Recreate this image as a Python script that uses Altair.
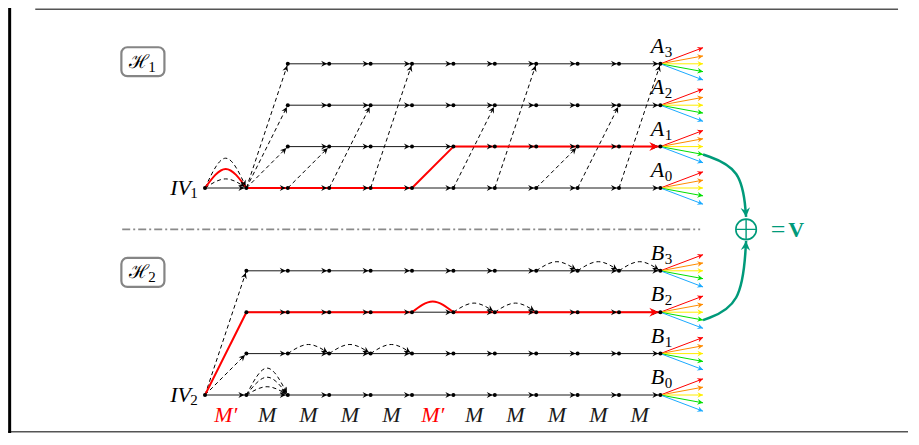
import math
import altair as alt
import pandas as pd

# ------------------------------------------------------------------ data
# Grid: column index 0..11 (column 0 = IV node); "level" = vertical row position
row_letter = ["B", "B", "B", "B", "A", "A", "A", "A"]
row_sub = ["0", "1", "2", "3", "0", "1", "2", "3"]
row_level = [0, 1, 2, 3, 5, 6, 7, 8]
row_first_col = [0, 1, 1, 1, 0, 2, 2, 2]
last_col = 11

iv_level = [5, 0]
iv_sub = ["1", "2"]

# dashed straight transitions (from col/level -> to col/level)
dash_c1 = [1, 1, 1, 2, 3, 4, 6, 7, 8, 9, 10, 0, 0]
dash_l1 = [5, 5, 5, 5, 5, 5, 5, 5, 5, 5, 5, 0, 0]
dash_c2 = [2, 2, 2, 3, 4, 5, 7, 8, 9, 10, 11, 1, 1]
dash_l2 = [6, 7, 8, 6, 7, 8, 7, 8, 6, 7, 8, 3, 1]

# highlighted (red) straight path pieces
red_c1 = [1, 5, 6, 0, 1, 6]
red_l1 = [5, 5, 6, 0, 2, 2]
red_c2 = [5, 6, 11, 1, 5, 11]
red_l2 = [5, 6, 6, 2, 2, 2]
red_end_col = [11, 11]
red_end_level = [6, 2]

# arcs along a row (from col, to col, level, apex height, highlighted?)
arc_c1 = [0, 0, 0, 1, 1, 1, 2, 3, 4, 5, 6, 7, 8, 9, 10]
arc_c2 = [1, 1, 1, 2, 2, 2, 3, 4, 5, 6, 7, 8, 9, 10, 11]
arc_lv = [5, 5, 5, 0, 0, 0, 1, 1, 1, 2, 2, 2, 3, 3, 3]
arc_h = [0.46, 0.72, 0.22, 0.65, 0.43, 0.20, 0.22, 0.22, 0.22, 0.26, 0.22, 0.22, 0.22, 0.22, 0.22]
arc_red = [True, False, False, False, False, False, False, False, False,
           True, False, False, False, False, False]

# output fan at the last column
fan_dy = [0.39, 0.19, 0.0, -0.19, -0.39]
fan_end_col = 12.03
fan_palette = ["#ff0000", "#ff8c00", "#ffee00", "#00e000", "#1aaaff"]

# bottom labels
mult_col = [0.5, 1.5, 2.5, 3.5, 4.5, 5.5, 6.5, 7.5, 8.5, 9.5, 10.5]
mult_text = ["M′", "M", "M", "M", "M", "M′", "M", "M", "M", "M", "M"]
mult_level = -0.48

# combining curves towards the ⊕
sum_c = [[12.03, 12.97, 13.07], [12.03, 12.97, 13.07]]
sum_l = [[5.81, 5.48, 4.30], [1.81, 2.15, 3.72]]
oplus_col, oplus_level = 13.07, 4.0
teal = "#009a7a"

box_col = [-1.5, -1.5]
box_level = [8.05, 2.96]
box_sub = ["1", "2"]

divider_c1, divider_c2, divider_level = -2.0, 11.96, 4.0

# ------------------------------------------------------------------ scales
W, H = 900, 425
PX = 41.4
x0 = (8 - 205) / PX
x1 = x0 + W / PX
y1 = (395 - 8) / PX
y0 = y1 - H / PX
xs = alt.Scale(domain=[x0, x1], nice=False, zero=False)
ys = alt.Scale(domain=[y0, y1], nice=False, zero=False)


def X(f="x"):
    return alt.X(f"{f}:Q", scale=xs, axis=None)


def Y(f="y"):
    return alt.Y(f"{f}:Q", scale=ys, axis=None)


def ang(dx, dy):
    return math.degrees(math.atan2(-dy, dx)) % 360


PULL = 0.05
ARROW = "M0,0L-1.8,-0.9L-1.2,0L-1.8,0.9Z"
FONT = "Liberation Serif"

# ------------------------------------------------------------------ tables
segs, nodes, heads = [], [], []
for lv, fc in zip(row_level, row_first_col):
    for c in range(fc, last_col + 1):
        nodes.append({"x": c, "y": lv})
    for c in range(fc, last_col):
        segs.append({"x": c, "y": lv, "x2": c + 1, "y2": lv})
        heads.append({"x": c + 1 - PULL, "y": lv, "ang": 0})
segs = pd.DataFrame(segs)
nodes = pd.DataFrame(nodes)

dash = pd.DataFrame({"x": dash_c1, "y": dash_l1, "x2": dash_c2, "y2": dash_l2})
for a, b, c, d in zip(dash_c1, dash_l1, dash_c2, dash_l2):
    L = math.hypot(c - a, d - b)
    heads.append({"x": c - PULL * (c - a) / L, "y": d - PULL * (d - b) / L,
                  "ang": ang(c - a, d - b)})

red = pd.DataFrame({"x": red_c1, "y": red_l1, "x2": red_c2, "y2": red_l2})
red_heads = pd.DataFrame({"x": [c - PULL for c in red_end_col], "y": red_end_level,
                          "ang": [0] * len(red_end_col)})

arc_rows = []
for i, (a, b, lv, h, r) in enumerate(zip(arc_c1, arc_c2, arc_lv, arc_h, arc_red)):
    for o, (px, py) in enumerate([(a, lv), ((a + b) / 2, lv + h), (b, lv)]):
        arc_rows.append({"id": i, "o": o, "x": px, "y": py, "red": r})
    if not r:
        t = math.atan(3 * h / (b - a))
        heads.append({"x": b - PULL * math.cos(t), "y": lv + PULL * math.sin(t),
                      "ang": math.degrees(t)})
arcs = pd.DataFrame(arc_rows)
heads = pd.DataFrame(heads)

fan, fan_heads = [], []
for lv in row_level:
    for k, d in enumerate(fan_dy):
        fan.append({"x": last_col, "y": lv, "x2": fan_end_col, "y2": lv + d, "k": k})
        fan_heads.append({"x": fan_end_col, "y": lv + d, "k": k,
                          "ang": ang(fan_end_col - last_col, d)})
fan = pd.DataFrame(fan)
fan_heads = pd.DataFrame(fan_heads)

sum_rows, sum_heads = [], []
for i, (cs, ls) in enumerate(zip(sum_c, sum_l)):
    for o, (c, l) in enumerate(zip(cs, ls)):
        sum_rows.append({"id": i, "o": o, "x": c, "y": l})
    sum_heads.append({"x": cs[-1], "y": ls[-1], "ang": ang(cs[-1] - cs[-2], ls[-1] - ls[-2])})
sums = pd.DataFrame(sum_rows)
sum_heads = pd.DataFrame(sum_heads)

labels = pd.DataFrame({"x": [last_col] * len(row_level), "y": row_level,
                       "t": row_letter, "s": row_sub})
ivs = pd.DataFrame({"x": [0, 0], "y": iv_level, "t": ["IV", "IV"], "s": iv_sub})
mults = pd.DataFrame({"x": mult_col, "y": [mult_level] * len(mult_col), "t": mult_text})
boxes = pd.DataFrame({"x": box_col, "y": box_level, "s": box_sub})
oplus = pd.DataFrame({"x": [oplus_col], "y": [oplus_level]})
divider = pd.DataFrame({"x": [divider_c1], "x2": [divider_c2], "y": [divider_level]})
frame_h = pd.DataFrame({"x": [-4.10, x0], "x2": [16.74, x1], "y": [9.32, y0 + 0.03]})
frame_v = pd.DataFrame({"x": [x0 + 0.04], "y": [y0], "y2": [y1]})

# ------------------------------------------------------------------ layers
layers = []
layers.append(alt.Chart(frame_h).mark_rule(color="#555555", strokeWidth=1.5).encode(
    x=X(), x2="x2:Q", y=Y()))
layers.append(alt.Chart(frame_v).mark_rule(color="black", strokeWidth=3).encode(
    x=X(), y=Y(), y2="y2:Q"))
layers.append(alt.Chart(divider).mark_rule(color="#8a8a8a", strokeWidth=1.6,
                                           strokeDash=[8, 3, 2, 3]).encode(
    x=X(), x2="x2:Q", y=Y()))
layers.append(alt.Chart(boxes).transform_calculate(
    xa="datum.x - 0.52", xb="datum.x + 0.52", ya="datum.y - 0.35", yb="datum.y + 0.35"
).mark_rect(cornerRadius=6, fill="white", stroke="#858585", strokeWidth=2.2).encode(
    x=X("xa"), x2="xb:Q", y=Y("ya"), y2="yb:Q"))
layers.append(alt.Chart(segs).mark_rule(color="#1a1a1a", strokeWidth=1).encode(
    x=X(), y=Y(), x2="x2:Q", y2="y2:Q"))
layers.append(alt.Chart(dash).mark_rule(color="black", strokeWidth=1,
                                        strokeDash=[4, 3]).encode(
    x=X(), y=Y(), x2="x2:Q", y2="y2:Q"))
layers.append(alt.Chart(arcs).transform_filter("!datum.red").mark_line(
    interpolate="natural", color="black", strokeWidth=1, strokeDash=[4, 3]).encode(
    x=X(), y=Y(), detail="id:N", order="o:Q"))
layers.append(alt.Chart(arcs).transform_filter("datum.red").mark_line(
    interpolate="natural", color="#ff0000", strokeWidth=2).encode(
    x=X(), y=Y(), detail="id:N", order="o:Q"))
layers.append(alt.Chart(red).mark_rule(color="#ff0000", strokeWidth=2).encode(
    x=X(), y=Y(), x2="x2:Q", y2="y2:Q"))
layers.append(alt.Chart(heads).mark_point(shape=ARROW, filled=True, size=44,
                                          color="black", opacity=1, strokeWidth=0).encode(
    x=X(), y=Y(), angle=alt.Angle("ang:Q", scale=None)))
layers.append(alt.Chart(red_heads).mark_point(shape=ARROW, filled=True, size=100,
                                              color="#ff0000", opacity=1, strokeWidth=0).encode(
    x=X(), y=Y(), angle=alt.Angle("ang:Q", scale=None)))
fan_color = alt.Color("k:N", scale=alt.Scale(domain=list(range(5)), range=fan_palette),
                      legend=None)
layers.append(alt.Chart(fan).mark_rule(strokeWidth=1).encode(
    x=X(), y=Y(), x2="x2:Q", y2="y2:Q", color=fan_color))
layers.append(alt.Chart(fan_heads).mark_point(shape=ARROW, filled=True, size=40,
                                              opacity=1, strokeWidth=0).encode(
    x=X(), y=Y(), angle=alt.Angle("ang:Q", scale=None), color=fan_color))
layers.append(alt.Chart(nodes).mark_circle(size=16, color="black", opacity=1).encode(
    x=X(), y=Y()))
layers.append(alt.Chart(sums).mark_line(interpolate="basis", color=teal,
                                        strokeWidth=2.5).encode(
    x=X(), y=Y(), detail="id:N", order="o:Q"))
layers.append(alt.Chart(sum_heads).mark_point(shape=ARROW, filled=True, size=110,
                                              color=teal, opacity=1, strokeWidth=0).encode(
    x=X(), y=Y(), angle=alt.Angle("ang:Q", scale=None)))
layers.append(alt.Chart(oplus).mark_point(shape="circle", size=420, filled=False,
                                          color=teal, strokeWidth=1.6, opacity=1).encode(
    x=X(), y=Y()))
layers.append(alt.Chart(oplus).mark_point(shape="M-1,0L1,0M0,-1L0,1", size=420,
                                          filled=False, color=teal, strokeWidth=1.4,
                                          opacity=1).encode(x=X(), y=Y()))
layers.append(alt.Chart(oplus).mark_text(text="=", font=FONT, fontSize=26, color=teal,
                                         dx=32, dy=1).encode(x=X(), y=Y()))
layers.append(alt.Chart(oplus).mark_text(text="V", font=FONT, fontSize=22, fontWeight="bold",
                                         color=teal, dx=50, dy=1).encode(x=X(), y=Y()))

# row labels A_i / B_i
layers.append(alt.Chart(labels).mark_text(font=FONT, fontSize=22, fontStyle="italic",
                                          dx=-3, dy=-18).encode(x=X(), y=Y(), text="t:N"))
layers.append(alt.Chart(labels).mark_text(font=FONT, fontSize=15, dx=8, dy=-12).encode(
    x=X(), y=Y(), text="s:N"))
# IV labels
layers.append(alt.Chart(ivs).mark_text(font=FONT, fontSize=22, fontStyle="italic",
                                       align="right", dx=-14, dy=0).encode(
    x=X(), y=Y(), text="t:N"))
layers.append(alt.Chart(ivs).mark_text(font=FONT, fontSize=15, dx=-11, dy=5).encode(
    x=X(), y=Y(), text="s:N"))
# multiplier labels (M' in red, M in black)
layers.append(alt.Chart(mults).transform_filter("datum.t == 'M′'").mark_text(
    font=FONT, fontSize=22, fontStyle="italic", color="#ff0000").encode(
    x=X(), y=Y(), text="t:N"))
layers.append(alt.Chart(mults).transform_filter("datum.t != 'M′'").mark_text(
    font=FONT, fontSize=22, fontStyle="italic", color="#1a1a1a").encode(
    x=X(), y=Y(), text="t:N"))
# box labels
layers.append(alt.Chart(boxes).mark_text(text="ℋ", font="DejaVu Serif", fontSize=19,
                                         dx=-4, dy=0).encode(x=X(), y=Y()))
layers.append(alt.Chart(boxes).mark_text(font=FONT, fontSize=15, dx=9, dy=5).encode(
    x=X(), y=Y(), text="s:N"))

chart = alt.layer(*layers).properties(
    width=W, height=H, padding=0, autosize=alt.AutoSizeParams(type="none")
).configure_view(stroke=None)

chart.save("out.html", embed_options={"renderer": "svg", "actions": False})
